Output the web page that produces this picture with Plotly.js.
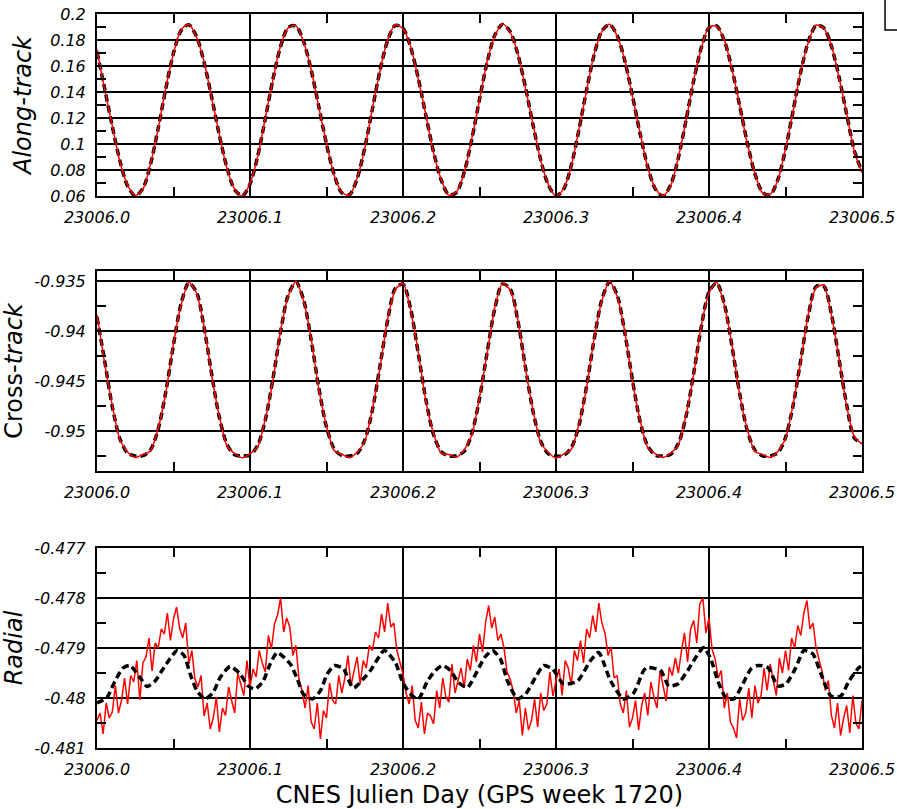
<!DOCTYPE html>
<html>
<head>
<meta charset="utf-8">
<script src="https://cdn.plot.ly/plotly-3.0.1.min.js"></script>
<style>html,body{margin:0;padding:0;background:#fff;}</style>
</head>
<body>
<div id="chart" style="width:897px;height:809px;"></div>
<script>
// Orbit comparison over half a day (CNES Julian day 23006, GPS week 1720).
// Black dashed = reference orbit, red = computed orbit.

const DAY0 = 23006;

// Along-track / cross-track samples every 0.005 day starting at DAY0
const orbitStep = 0.005;

const alongRef = [
  0.1710, 0.1426, 0.1135, 0.0868, 0.0678, 0.0601, 0.0658, 0.0845, 0.1122, 0.1428,
  0.1700, 0.1874, 0.1917, 0.1828, 0.1628, 0.1356, 0.1066, 0.0814, 0.0648, 0.0601,
  0.0692, 0.0906, 0.1195, 0.1499, 0.1751, 0.1897, 0.1907, 0.1789, 0.1568, 0.1286,
  0.1000, 0.0764, 0.0625, 0.0610, 0.0733, 0.0970, 0.1269, 0.1567, 0.1797, 0.1913,
  0.1890, 0.1744, 0.1504, 0.1216, 0.0937, 0.0722, 0.0609, 0.0628, 0.0782, 0.1039,
  0.1343, 0.1630, 0.1837, 0.1920, 0.1865, 0.1694, 0.1437, 0.1146, 0.0878, 0.0684,
  0.0601, 0.0653, 0.0836, 0.1110, 0.1416, 0.1690, 0.1869, 0.1918, 0.1834, 0.1638,
  0.1368, 0.1078, 0.0822, 0.0653, 0.0600, 0.0686, 0.0895, 0.1183, 0.1488, 0.1742,
  0.1894, 0.1909, 0.1796, 0.1578, 0.1298, 0.1010, 0.0772, 0.0628, 0.0609, 0.0726,
  0.0959, 0.1257, 0.1556, 0.1790, 0.1911, 0.1894, 0.1752, 0.1515, 0.1228, 0.0947,
  0.0788
];

const alongCalc = [
  0.1725, 0.1420, 0.1140, 0.0862, 0.0683, 0.0604, 0.0652, 0.0850, 0.1118, 0.1433,
  0.1696, 0.1879, 0.1921, 0.1822, 0.1633, 0.1350, 0.1071, 0.0809, 0.0652, 0.0598,
  0.0697, 0.0901, 0.1200, 0.1494, 0.1756, 0.1893, 0.1911, 0.1784, 0.1573, 0.1281,
  0.1005, 0.0759, 0.0629, 0.0606, 0.0738, 0.0965, 0.1274, 0.1562, 0.1802, 0.1917,
  0.1886, 0.1749, 0.1499, 0.1221, 0.0932, 0.0727, 0.0605, 0.0632, 0.0777, 0.1044,
  0.1338, 0.1635, 0.1832, 0.1924, 0.1860, 0.1699, 0.1432, 0.1151, 0.0873, 0.0689,
  0.0597, 0.0658, 0.0831, 0.1115, 0.1411, 0.1695, 0.1864, 0.1922, 0.1829, 0.1643,
  0.1363, 0.1083, 0.0817, 0.0657, 0.0603, 0.0681, 0.0900, 0.1178, 0.1493, 0.1737,
  0.1898, 0.1905, 0.1801, 0.1573, 0.1303, 0.1005, 0.0777, 0.0624, 0.0613, 0.0721,
  0.0964, 0.1252, 0.1561, 0.1785, 0.1915, 0.1890, 0.1757, 0.1510, 0.1233, 0.0942,
  0.0780
];

const crossRef = [
  -0.93860, -0.94300, -0.94757, -0.95078, -0.95222, -0.95250, -0.95247, -0.95187, -0.94981, -0.94606,
  -0.94137, -0.93724, -0.93520, -0.93611, -0.93964, -0.94438, -0.94865, -0.95135, -0.95238, -0.95250,
  -0.95240, -0.95145, -0.94890, -0.94477, -0.94007, -0.93639, -0.93511, -0.93686, -0.94091, -0.94570,
  -0.94960, -0.95179, -0.95246, -0.95250, -0.95225, -0.95091, -0.94790, -0.94347, -0.93888, -0.93574,
  -0.93531, -0.93780, -0.94225, -0.94693, -0.95038, -0.95208, -0.95249, -0.95248, -0.95203, -0.95025,
  -0.94675, -0.94212, -0.93776, -0.93530, -0.93576, -0.93893, -0.94360, -0.94806, -0.95102, -0.95229,
  -0.95250, -0.95244, -0.95169, -0.94943, -0.94551, -0.94078, -0.93684, -0.93510, -0.93642, -0.94020,
  -0.94493, -0.94907, -0.95153, -0.95241, -0.95250, -0.95234, -0.95125, -0.94852, -0.94422, -0.93955,
  -0.93609, -0.93520, -0.93728, -0.94150, -0.94621, -0.94994, -0.95192, -0.95248, -0.95250, -0.95218,
  -0.95066, -0.94741, -0.94288, -0.93838, -0.93555, -0.93550, -0.93830, -0.94284, -0.94741, -0.95069,
  -0.95120
];

const crossCalc = [
  -0.93840, -0.94320, -0.94745, -0.95090, -0.95210, -0.95265, -0.95235, -0.95200, -0.94970, -0.94615,
  -0.94125, -0.93735, -0.93512, -0.93620, -0.93955, -0.94450, -0.94855, -0.95150, -0.95225, -0.95268,
  -0.95228, -0.95160, -0.94880, -0.94488, -0.93995, -0.93650, -0.93505, -0.93698, -0.94080, -0.94582,
  -0.94950, -0.95195, -0.95232, -0.95268, -0.95212, -0.95105, -0.94780, -0.94358, -0.93878, -0.93585,
  -0.93522, -0.93792, -0.94215, -0.94705, -0.95028, -0.95222, -0.95236, -0.95262, -0.95190, -0.95038,
  -0.94665, -0.94224, -0.93765, -0.93522, -0.93588, -0.93882, -0.94372, -0.94795, -0.95115, -0.95215,
  -0.95270, -0.95232, -0.95182, -0.94932, -0.94563, -0.94066, -0.93695, -0.93502, -0.93655, -0.94008,
  -0.94505, -0.94895, -0.95168, -0.95228, -0.95265, -0.95220, -0.95138, -0.94840, -0.94434, -0.93944,
  -0.93620, -0.93512, -0.93740, -0.94138, -0.94633, -0.94982, -0.95205, -0.95235, -0.95266, -0.95205,
  -0.95078, -0.94730, -0.94300, -0.93826, -0.93566, -0.93540, -0.93842, -0.94272, -0.94753, -0.95058,
  -0.95130
];

// Radial reference orbit: day offsets from DAY0 and values
const radialRefDay = [
  0.0000, 0.0065, 0.0118, 0.0170, 0.0216, 0.0281, 0.0327, 0.0380, 0.0425, 0.0478,
  0.0524, 0.0569, 0.0609, 0.0654, 0.0707, 0.0759, 0.0805, 0.0870, 0.0936, 0.0988,
  0.1034, 0.1086, 0.1132, 0.1178, 0.1263, 0.1309, 0.1348, 0.1407, 0.1459, 0.1505,
  0.1551, 0.1610, 0.1675, 0.1787, 0.1878, 0.1950, 0.2003, 0.2062, 0.2101, 0.2160,
  0.2212, 0.2258, 0.2310, 0.2363, 0.2421, 0.2487, 0.2533, 0.2585, 0.2637, 0.2683,
  0.2749, 0.2801, 0.2866, 0.2919, 0.2978, 0.3050, 0.3141, 0.3226, 0.3279, 0.3357,
  0.3442, 0.3508, 0.3573, 0.3599, 0.3684, 0.3737, 0.3796, 0.3861, 0.3913, 0.3966,
  0.4012, 0.4058, 0.4110, 0.4162, 0.4221, 0.4274, 0.4319, 0.4385, 0.4450, 0.4503,
  0.4568, 0.4620, 0.4679, 0.4732, 0.4797, 0.4862, 0.4915, 0.4980, 0.5000
];
const radialRef = [
  -0.48010, -0.47999, -0.47966, -0.47940, -0.47935, -0.47959, -0.47977, -0.47966, -0.47945, -0.47921,
  -0.47905, -0.47915, -0.47952, -0.47986, -0.48002, -0.47989, -0.47959, -0.47937, -0.47952, -0.47976,
  -0.47982, -0.47966, -0.47932, -0.47909, -0.47932, -0.47962, -0.47992, -0.48002, -0.47986, -0.47952,
  -0.47935, -0.47941, -0.47980, -0.47945, -0.47905, -0.47929, -0.47972, -0.47996, -0.48002, -0.47966,
  -0.47945, -0.47935, -0.47945, -0.47969, -0.47979, -0.47945, -0.47919, -0.47905, -0.47922, -0.47966,
  -0.48002, -0.47992, -0.47959, -0.47935, -0.47942, -0.47972, -0.47966, -0.47925, -0.47909, -0.47966,
  -0.48002, -0.47990, -0.47945, -0.47939, -0.47945, -0.47976, -0.47972, -0.47945, -0.47919, -0.47899,
  -0.47922, -0.47966, -0.47999, -0.48002, -0.47972, -0.47942, -0.47935, -0.47939, -0.47976, -0.47972,
  -0.47939, -0.47905, -0.47912, -0.47952, -0.47996, -0.47996, -0.47966, -0.47939, -0.47935
];

// Radial computed orbit, sampled every 0.002 day starting at DAY0
const radialStep = 0.002;
const radialCalc = [
  -0.48045, -0.48030, -0.48072, -0.48010, -0.48040, -0.48028, -0.47975, -0.48030, -0.48005, -0.47960,
  -0.48012, -0.47955, -0.47968, -0.47925, -0.48004, -0.47930, -0.47918, -0.47880, -0.47946, -0.47890,
  -0.47900, -0.47862, -0.47872, -0.47830, -0.47885, -0.47842, -0.47818, -0.47860, -0.47880, -0.47850,
  -0.47932, -0.47905, -0.47962, -0.47978, -0.47955, -0.48036, -0.48010, -0.48062, -0.48040, -0.47998,
  -0.48068, -0.48020, -0.48035, -0.47978, -0.48005, -0.48030, -0.47950, -0.47972, -0.47995, -0.47925,
  -0.47978, -0.47942, -0.47958, -0.47905, -0.47930, -0.47948, -0.47875, -0.47902, -0.47852, -0.47834,
  -0.47800, -0.47868, -0.47840, -0.47858, -0.47915, -0.47895, -0.47962, -0.47985, -0.48020, -0.47975,
  -0.48048, -0.48062, -0.48010, -0.48082, -0.48025, -0.48040, -0.47970, -0.48005, -0.48012, -0.47955,
  -0.47990, -0.47960, -0.47915, -0.47975, -0.47948, -0.47918, -0.47972, -0.47925, -0.47940, -0.47895,
  -0.47905, -0.47868, -0.47880, -0.47832, -0.47868, -0.47810, -0.47858, -0.47850, -0.47905, -0.47930,
  -0.47952, -0.47990, -0.48012, -0.47975, -0.48045, -0.48060, -0.48008, -0.48072, -0.48030, -0.48036,
  -0.48052, -0.47985, -0.48020, -0.47960, -0.47998, -0.48008, -0.47932, -0.47990, -0.47962, -0.47940,
  -0.47980, -0.47922, -0.47945, -0.47895, -0.47928, -0.47872, -0.47908, -0.47848, -0.47815, -0.47860,
  -0.47838, -0.47885, -0.47872, -0.47900, -0.47948, -0.47962, -0.47985, -0.48030, -0.48005, -0.48075,
  -0.48020, -0.48064, -0.48045, -0.48002, -0.48058, -0.47990, -0.48025, -0.48012, -0.47948, -0.47996,
  -0.47965, -0.47942, -0.47995, -0.47925, -0.47940, -0.47975, -0.47905, -0.47925, -0.47885, -0.47930,
  -0.47862, -0.47880, -0.47835, -0.47868, -0.47810, -0.47850, -0.47870, -0.47915, -0.47898, -0.47960,
  -0.47955, -0.48012, -0.48030, -0.47985, -0.48058, -0.48040, -0.48005, -0.48064, -0.48015, -0.47990,
  -0.48035, -0.47968, -0.47998, -0.48020, -0.47945, -0.47978, -0.48006, -0.47938, -0.47955, -0.47920,
  -0.47950, -0.47905, -0.47870, -0.47928, -0.47862, -0.47845, -0.47890, -0.47812, -0.47800, -0.47870,
  -0.47840, -0.47902, -0.47922, -0.47960, -0.47945, -0.48020, -0.47990, -0.48048, -0.48060, -0.48080,
  -0.48002, -0.48045, -0.48030, -0.47980, -0.48040, -0.47975, -0.48010, -0.47995, -0.47940, -0.47985,
  -0.47932, -0.47965, -0.47995, -0.47920, -0.47950, -0.47905, -0.47945, -0.47880, -0.47900, -0.47855,
  -0.47875, -0.47830, -0.47805, -0.47862, -0.47850, -0.47900, -0.47922, -0.47948, -0.47985, -0.47965,
  -0.48035, -0.48060, -0.48010, -0.48075, -0.48040, -0.48015, -0.48070, -0.47995, -0.48050, -0.48062,
  -0.48005
];

// Axis ticks
const dayTicks = [23006.0, 23006.1, 23006.2, 23006.3, 23006.4, 23006.5];
const dayTickText = ['23006.0', '23006.1', '23006.2', '23006.3', '23006.4', '23006.5'];
const dayMinor = [23006.05, 23006.15, 23006.25, 23006.35, 23006.45];

const alongTicks = [0.06, 0.08, 0.1, 0.12, 0.14, 0.16, 0.18, 0.2];
const alongTickText = ['0.06', '0.08', '0.1', '0.12', '0.14', '0.16', '0.18', '0.2'];
const alongMinor = [0.07, 0.09, 0.11, 0.13, 0.15, 0.17, 0.19];

const crossTicks = [-0.95, -0.945, -0.94, -0.935];
const crossTickText = ['-0.95', '-0.945', '-0.94', '-0.935'];
const crossMinor = [-0.9525, -0.9475, -0.9425, -0.9375];

const radialTicks = [-0.481, -0.48, -0.479, -0.478, -0.477];
const radialTickText = ['-0.481', '-0.48', '-0.479', '-0.478', '-0.477'];
const radialMinor = [-0.4805, -0.4795, -0.4785, -0.4775];

const FONT = 'DejaVu Sans';
const orbitDays = alongRef.map((_, i) => DAY0 + i * orbitStep);
const radialCalcDays = radialCalc.map((_, i) => DAY0 + i * radialStep);
const radialRefDays = radialRefDay.map(d => DAY0 + d);

const refLine = { color: '#000', width: 3.5, dash: '7px,4px', shape: 'spline', smoothing: 0.8 };
const calcLine = { color: '#ff0000', width: 1.5 };

const traces = [
  { x: orbitDays, y: alongRef, xaxis: 'x', yaxis: 'y', mode: 'lines', line: refLine, name: 'reference' },
  { x: orbitDays, y: alongCalc, xaxis: 'x', yaxis: 'y', mode: 'lines', line: Object.assign({ shape: 'spline', smoothing: 0.8 }, calcLine), name: 'computed' },
  { x: orbitDays, y: crossRef, xaxis: 'x2', yaxis: 'y2', mode: 'lines', line: refLine, name: 'reference' },
  { x: orbitDays, y: crossCalc, xaxis: 'x2', yaxis: 'y2', mode: 'lines', line: Object.assign({ shape: 'spline', smoothing: 0.6 }, calcLine), name: 'computed' },
  { x: radialCalcDays, y: radialCalc, xaxis: 'x3', yaxis: 'y3', mode: 'lines', line: calcLine, name: 'computed' },
  { x: radialRefDays, y: radialRef, xaxis: 'x3', yaxis: 'y3', mode: 'lines', line: Object.assign({}, refLine, { smoothing: 0.6 }), name: 'reference' }
];

const boxStyle = {
  showline: true, linecolor: '#000', linewidth: 2, mirror: 'allticks',
  ticks: 'inside', ticklen: 9, tickwidth: 2, tickcolor: '#000',
  showgrid: true, gridcolor: '#000', gridwidth: 2, zeroline: false,
  tickfont: { family: FONT, size: 16, style: 'italic', color: '#000' },
  ticklabelstandoff: 6
};

function xAxis(anchor, extra) {
  return Object.assign({}, boxStyle, {
    anchor: anchor, domain: [0, 1], range: [23006, 23006.5],
    tickmode: 'array', tickvals: dayTicks, ticktext: dayTickText,
    minor: { tickvals: dayMinor, ticks: 'inside', ticklen: 9, tickwidth: 2, tickcolor: '#000', showgrid: false }
  }, extra || {});
}

function yAxis(anchor, domain, range, vals, text, minor, title) {
  return Object.assign({}, boxStyle, {
    anchor: anchor, domain: domain, range: range,
    tickmode: 'array', tickvals: vals, ticktext: text,
    minor: { tickvals: minor, ticks: 'inside', ticklen: 9, tickwidth: 2, tickcolor: '#000', showgrid: false },
    title: title
  });
}

const layout = {
  width: 897, height: 809,
  margin: { l: 97, r: 35, t: 0, b: 0 },
  paper_bgcolor: '#fff', plot_bgcolor: '#fff',
  font: { family: FONT, color: '#000' },
  showlegend: false,
  xaxis: xAxis('y'),
  xaxis2: xAxis('y2'),
  xaxis3: xAxis('y3', { title: { text: 'CNES Julien Day (GPS week 1720)', font: { family: FONT, size: 24 }, standoff: 10 } }),
  yaxis: yAxis('x', [0.7577256, 0.9826947], [0.06, 0.2], alongTicks, alongTickText, alongMinor,
    { text: 'Along-track', font: { family: FONT, size: 24, style: 'italic' }, standoff: 12 }),
  yaxis2: yAxis('x2', [0.4177998, 0.6650186], [-0.954, -0.934], crossTicks, crossTickText, crossMinor,
    { text: 'Cross-<i>track</i>', font: { family: FONT, size: 24 }, standoff: 12 }),
  yaxis3: yAxis('x3', [0.0754017, 0.3226205], [-0.481, -0.477], radialTicks, radialTickText, radialMinor,
    { text: 'Radial', font: { family: FONT, size: 24, style: 'italic' }, standoff: 12 }),
  shapes: [
    { type: 'rect', xref: 'paper', yref: 'paper', x0: 1.0301, x1: 1.2, y0: 0.9629, y1: 1.05,
      line: { color: '#000', width: 1.5 }, fillcolor: 'rgba(0,0,0,0)' }
  ]
};

Plotly.newPlot('chart', traces, layout, { displayModeBar: false, staticPlot: true });
</script>
</body>
</html>
